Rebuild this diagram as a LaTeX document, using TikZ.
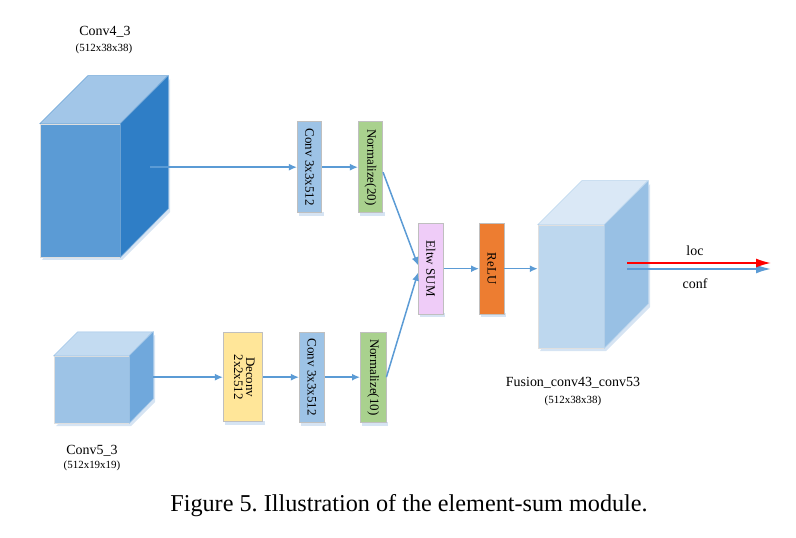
\documentclass[tikz,border=0pt]{standalone}
\usepackage{fontspec}
\setmainfont{Liberation Serif}
\frenchspacing
\usetikzlibrary{arrows.meta,calc}
\definecolor{lnblue}{HTML}{5B9BD5}
\definecolor{boxgray}{HTML}{BFBFBF}
\definecolor{shad}{HTML}{D6E4F3}
\definecolor{cAfront}{HTML}{5B9BD5}
\definecolor{cAtop}{HTML}{A2C6E8}
\definecolor{cAside}{HTML}{2F7EC6}
\definecolor{cBfront}{HTML}{9DC3E6}
\definecolor{cBtop}{HTML}{C3DBF1}
\definecolor{cBside}{HTML}{70A8DC}
\definecolor{cFfront}{HTML}{BDD7EE}
\definecolor{cFtop}{HTML}{DAE8F6}
\definecolor{cFside}{HTML}{98C0E4}
\definecolor{convblue}{HTML}{9DC3E6}
\definecolor{normgreen}{HTML}{A9D18E}
\definecolor{deconvyel}{HTML}{FFE699}
\definecolor{sumpink}{HTML}{EFCCF8}
\definecolor{reluor}{HTML}{ED7D31}
\newcommand{\mycube}[9]{%
  \fill[shad] (#2+2,#3+#5+3) -- ++(#4,0) -- ++(#6,-#6) -- ++(0,-#5) -- cycle;
  \node[cubefront, fill=#7, minimum width=#4bp, minimum height=#5bp] (#1) at (#2+#4/2,#3+#5/2) {};
  \filldraw[fill=#8, draw=#9!70!white, line width=0.5bp] (#1.north west) -- ++(#6,-#6) -- ++(#4,0) -- (#1.north east) -- cycle;
  \filldraw[fill=#9, draw=#9!70!white, line width=0.5bp] (#1.north east) -- ++(#6,-#6) -- ++(0,#5) -- (#1.south east) -- cycle;
}
\tikzset{
  cubefront/.style={draw=white!75!gray, line width=0.5bp, rectangle, inner sep=0pt},
  layerbox/.style={draw=boxgray, line width=0.7bp, rectangle, inner sep=0pt, minimum width=25bp, minimum height=91bp,
     font=\fontsize{13}{14}\selectfont, align=center},
  conn/.style={draw=lnblue, line width=1.5bp, -{Latex[length=8bp,width=7bp]}},
  bigarrow/.style={line width=1.7bp, -{Latex[length=15bp,width=9bp]}},
  lbl/.style={font=\fontsize{14}{16}\selectfont, inner sep=0pt},
  dimlbl/.style={font=\fontsize{11}{12}\selectfont, inner sep=0pt},
}
\begin{document}
\begin{tikzpicture}[x=1bp,y=-1bp]
\useasboundingbox (0,0) rectangle (796,538);
% cubes
\mycube{c4}{40}{124}{80}{133}{48}{cAfront}{cAtop}{cAside}
\mycube{c5}{54}{356}{75}{67}{24}{cBfront}{cBtop}{cBside}
\mycube{fus}{538}{225}{66}{123}{44}{cFfront}{cFtop}{cFside}
% box shadows
\foreach \x/\y/\w/\h in {297.3/121.7/24.4/91, 358.3/121.7/24.4/91, 223.3/332.7/39.4/89, 299.3/332.7/25/90, 360.3/332.7/25.7/90, 418.3/223.3/25/90.7, 479.3/223.3/24.7/90.7}
  \fill[shad] (\x+2,\y+\h-1) rectangle (\x+\w+2,\y+\h+3);
% layer boxes
\node[layerbox, fill=convblue, minimum width=24.4bp] (cv1) at (309.5,167.2) {\rotatebox{-90}{Conv 3x3x512}};
\node[layerbox, fill=normgreen, minimum width=24.4bp] (n1) at (370.5,167.2) {\rotatebox{-90}{Normalize(20)}};
\node[layerbox, fill=deconvyel, minimum width=39.4bp, minimum height=89bp] (dc) at (243,377.2) {\rotatebox{-90}{\begin{tabular}{@{}c@{}}Deconv\\[-2pt]2x2x512\end{tabular}}};
\node[layerbox, fill=convblue, minimum height=90bp] (cv2) at (311.8,377.2) {\rotatebox{-90}{Conv 3x3x512}};
\node[layerbox, fill=normgreen, minimum width=25.7bp, minimum height=90bp] (n2) at (373.2,377.2) {\rotatebox{-90}{Normalize(10)}};
\node[layerbox, fill=sumpink, minimum height=90.7bp] (sum) at (430.8,268.7) {\rotatebox{-90}{Eltw SUM}};
\node[layerbox, fill=reluor, minimum width=24.7bp, minimum height=90.7bp] (relu) at (491.7,268.7) {\rotatebox{-90}{ReLU}};
% coordinates
\coordinate (c4out) at (150,167.2);
\coordinate (c5out) at (153,377.2);
\coordinate (locS) at (627,263);
\coordinate (locE) at (771,263);
\coordinate (confS) at (627,269);
\coordinate (confE) at (771,269);
% connectors
\draw[conn] (c4out) -- (cv1.west);
\draw[conn] (cv1.east) -- (n1.west);
\draw[conn] (c5out) -- (dc.west);
\draw[conn] (dc.east) -- (cv2.west);
\draw[conn] (cv2.east) -- (n2.west);
\draw[conn] ([yshift=-5bp]n1.east) -- ([yshift=3.5bp]sum.west);
\draw[conn] (n2.east) -- ([yshift=-4bp]sum.west);
\draw[conn] (sum.east) -- (relu.west);
\draw[conn] (relu.east) -- (relu.east -| fus.west);
\draw[bigarrow, draw=lnblue, line width=1.9bp] (confS) -- (confE);
\draw[bigarrow, draw=red] (locS) -- (locE);
% labels
\node[lbl] (t1) at (105,32) {Conv4\_3};
\node[dimlbl] (t1b) at (104,49) {(512x38x38)};
\node[lbl] (t2) at (92,451) {Conv5\_3};
\node[dimlbl] (t2b) at (92,466) {(512x19x19)};
\node[lbl] (t3) at (573,383) {Fusion\_conv43\_conv53};
\node[dimlbl] (t3b) at (573,401) {(512x38x38)};
\node[lbl] (tloc) at (695,251) {loc};
\node[lbl] (tconf) at (695,284) {conf};
\node[font=\fontsize{24.3}{26}\selectfont, inner sep=0pt] (cap) at (409,506) {Figure 5. Illustration of the element-sum module.};
\end{tikzpicture}
\end{document}
